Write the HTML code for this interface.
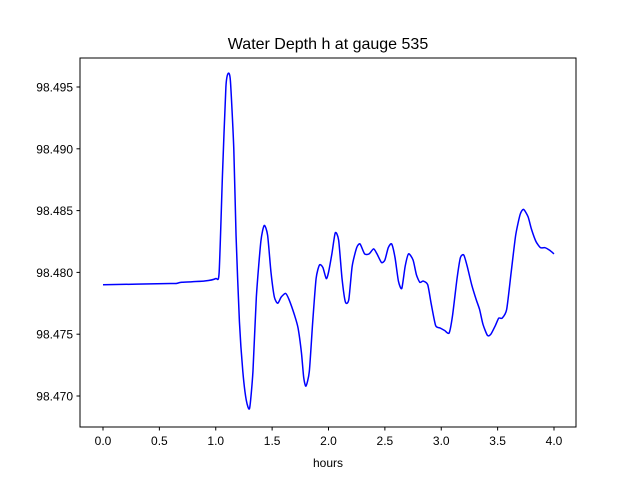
<!DOCTYPE html>
<html>
<head>
<meta charset="utf-8">
<style>
  html,body{margin:0;padding:0;background:#fff;}
  svg{display:block;font-family:"Liberation Sans","DejaVu Sans",sans-serif;}
</style>
</head>
<body>
<svg id="chart" width="640" height="480" viewBox="0 0 640 480">
  <rect x="0" y="0" width="640" height="480" fill="#fff"/>
  <text x="328" y="49" font-size="16" text-anchor="middle" fill="#000">Water Depth h at gauge 535</text>
  <g id="plot"></g>
  <rect x="80" y="58" width="496" height="369" fill="none" stroke="#000" stroke-width="1"/>
  <text x="328" y="467" font-size="12" text-anchor="middle" fill="#000">hours</text>
</svg>
<script>
const hours = [0.0,0.6,0.65,0.7,0.9,1.0,1.03,1.06,1.09,1.11,1.13,1.16,1.18,1.21,1.24,1.27,1.30,1.33,1.36,1.40,1.43,1.46,1.49,1.52,1.55,1.58,1.62,1.65,1.70,1.73,1.76,1.78,1.80,1.83,1.86,1.89,1.92,1.95,1.98,2.00,2.03,2.06,2.09,2.12,2.15,2.18,2.21,2.25,2.28,2.32,2.36,2.40,2.43,2.47,2.50,2.53,2.56,2.59,2.62,2.65,2.68,2.71,2.75,2.78,2.81,2.84,2.88,2.91,2.95,2.99,3.03,3.07,3.10,3.14,3.17,3.20,3.23,3.27,3.31,3.34,3.37,3.41,3.44,3.48,3.51,3.54,3.58,3.62,3.66,3.70,3.73,3.77,3.80,3.84,3.88,3.92,3.96,4.00];
const depth = [98.4790,98.4791,98.4791,98.4792,98.4793,98.4795,98.4800,98.4880,98.4950,98.4961,98.4955,98.4900,98.4830,98.4760,98.4720,98.4697,98.4690,98.4720,98.4780,98.4825,98.4838,98.4830,98.4800,98.4780,98.4775,98.4780,98.4783,98.4778,98.4765,98.4755,98.4735,98.4715,98.4708,98.4720,98.4760,98.4795,98.4806,98.4804,98.4795,98.4800,98.4815,98.4832,98.4826,98.4795,98.4776,98.4778,98.4805,98.4820,98.4823,98.4815,98.4815,98.4819,98.4815,98.4808,98.4810,98.4820,98.4823,98.4812,98.4793,98.4787,98.4805,98.4815,98.4810,98.4798,98.4792,98.4793,98.4790,98.4775,98.4757,98.4755,98.4753,98.4751,98.4765,98.4795,98.4812,98.4814,98.4805,98.4790,98.4778,98.4770,98.4758,98.4749,98.4750,98.4757,98.4763,98.4763,98.4770,98.4800,98.4830,98.4847,98.4851,98.4845,98.4835,98.4825,98.4820,98.4820,98.4818,98.4815];
const xTicks = [0.0,0.5,1.0,1.5,2.0,2.5,3.0,3.5,4.0];
const xTickLabels = ["0.0","0.5","1.0","1.5","2.0","2.5","3.0","3.5","4.0"];
const yTicks = [98.470,98.475,98.480,98.485,98.490,98.495];
const yTickLabels = ["98.470","98.475","98.480","98.485","98.490","98.495"];

const NS = "http://www.w3.org/2000/svg";
function xs(v){ return 103 + v * 112.75; }
function ys(v){ return 396 - (v - 98.470) / 0.025 * 309; }
const plot = document.getElementById('plot');
function mk(tag, attrs){ const e=document.createElementNS(NS,tag); for(const k in attrs) e.setAttribute(k,attrs[k]); return e; }

xTicks.forEach((t,i)=>{
  const g = mk('g',{});
  
  
  g.appendChild(mk('line',{x1:xs(t),x2:xs(t),y1:427,y2:430.5,stroke:'#000','stroke-width':1}));
  const tx = mk('text',{x:xs(t),y:445,'font-size':12,'text-anchor':'middle',fill:'#000'});
  tx.textContent = xTickLabels[i];
  g.appendChild(tx);
  plot.appendChild(g);
});
yTicks.forEach((t,i)=>{
  const g = mk('g',{});
  
  
  g.appendChild(mk('line',{x1:76.5,x2:80,y1:ys(t),y2:ys(t),stroke:'#000','stroke-width':1}));
  const tx = mk('text',{x:73,y:ys(t)+4.5,'font-size':12,'text-anchor':'end',fill:'#000'});
  tx.textContent = yTickLabels[i];
  g.appendChild(tx);
  plot.appendChild(g);
});

const pts = hours.map((h,i)=>[xs(h), ys(depth[i])]);
let d = 'M'+pts[0][0]+','+pts[0][1];
const k = 9;
for(let i=0;i<pts.length-1;i++){
  const p0=pts[Math.max(0,i-1)], p1=pts[i], p2=pts[i+1], p3=pts[Math.min(pts.length-1,i+2)];
  const c1x=p1[0]+(p2[0]-p0[0])/k, c1y=p1[1]+(p2[1]-p0[1])/k;
  const c2x=p2[0]-(p3[0]-p1[0])/k, c2y=p2[1]-(p3[1]-p1[1])/k;
  d += ' C'+c1x+','+c1y+' '+c2x+','+c2y+' '+p2[0]+','+p2[1];
}
const line = mk('path',{d:d,fill:'none',stroke:'#0000ff','stroke-width':1.5});


plot.appendChild(line);
</script>
</body>
</html>
